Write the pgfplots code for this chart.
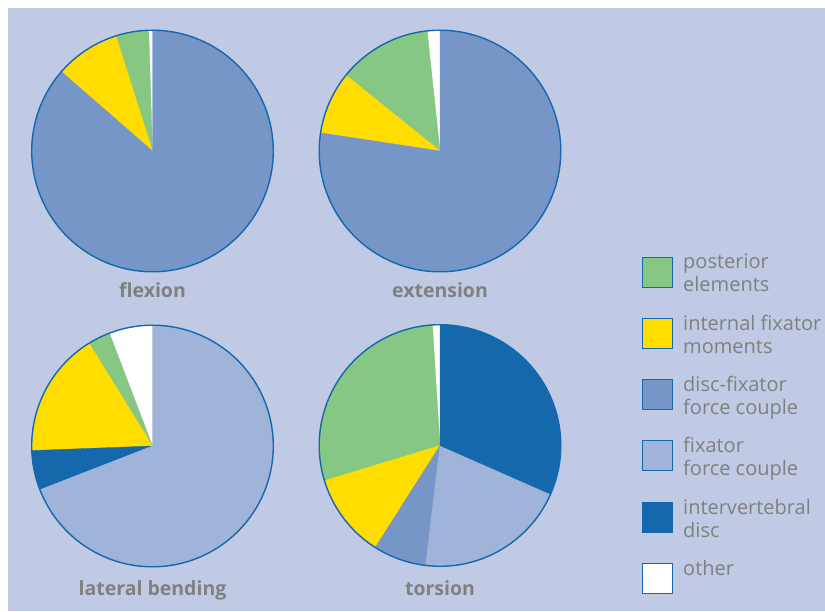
\documentclass[border=0pt]{standalone}
\usepackage{pgfplots}
\pgfplotsset{compat=1.18}
\usepackage{fontspec}
\setmainfont{Open Sans}
\definecolor{bg}{RGB}{192,202,228}
\definecolor{cpost}{RGB}{134,199,132}
\definecolor{cint}{RGB}{255,221,0}
\definecolor{cdf}{RGB}{117,150,199}
\definecolor{cfix}{RGB}{160,179,216}
\definecolor{cdisc}{RGB}{22,104,172}
\definecolor{cother}{RGB}{255,255,255}
\definecolor{txt}{RGB}{128,128,128}

% shares in percent, counter-clockwise from 12 o'clock
\newcommand\pieslices[1]{%
  \gdef\cum{0}%
  \foreach \p/\c in {#1}{%
    \pgfmathsetmacro\a{90+3.6*\cum}%
    \pgfmathsetmacro\b{90+3.6*(\cum+\p)}%
    \edef\temp{\noexpand\addplot[fill=\c, draw=\c, line width=0.3pt, domain=\a:\b, samples=60] ({cos(x)},{sin(x)}) -- (axis cs:0,0) -- cycle;}%
    \temp
    \pgfmathsetmacro\n{\cum+\p}\xdef\cum{\n}%
  }%
  \addplot[draw=cdisc, line width=1.4pt, domain=0:360, samples=181] ({cos(x)},{sin(x)});
}
\pgfplotsset{pieaxis/.style={hide axis, scale only axis, width=241.6pt, height=241.6pt,
  xmin=-1, xmax=1, ymin=-1, ymax=1, clip=false, anchor=origin}}

\begin{document}
\begin{tikzpicture}[x=1pt,y=1pt]
\fill[white] (0,0) rectangle (825,611);
\fill[bg] (8,0) rectangle (825,603);

\begin{axis}[pieaxis, at={(152.5pt,460pt)}]
\pieslices{0.5/cother, 4.4/cpost, 8.7/cint, 86.4/cdf}
\end{axis}
\begin{axis}[pieaxis, at={(440pt,460pt)}]
\pieslices{1.7/cother, 12.5/cpost, 8.4/cint, 77.4/cdf}
\end{axis}
\begin{axis}[pieaxis, at={(152.5pt,165pt)}]
\pieslices{5.8/cother, 3.0/cpost, 16.8/cint, 5.3/cdisc, 69.1/cfix}
\end{axis}
\begin{axis}[pieaxis, at={(440pt,165.5pt)}]
\pieslices{1.0/cother, 28.7/cpost, 11.3/cint, 7.1/cdf, 20.3/cfix, 31.6/cdisc}
\end{axis}

\begin{scope}[every node/.style={text=txt, font=\bfseries\fontsize{19.5}{23}\selectfont, anchor=base, inner sep=0pt}]
\node at (152.5,313) {flexion};
\node at (440,313) {extension};
\node at (152.5,16) {lateral bending};
\node at (440,16) {torsion};
\end{scope}

\begin{scope}[every node/.style={text=txt, font=\fontsize{20}{23}\selectfont, anchor=base west, inner sep=0pt}]
\foreach \i/\c/\la/\lb in {0/cpost/posterior/elements, 1/cint/internal fixator/moments,
  2/cdf/disc-fixator/force couple, 3/cfix/fixator/force couple,
  4/cdisc/intervertebral/disc, 5/cother/other/}{
  \filldraw[fill=\c, draw=cdisc, line width=0.9pt] (642,{611-287-61.3*\i}) rectangle ++(30,30);
  \node at (683,{611-269-61.3*\i}) {\la};
  \node at (683,{611-292-61.3*\i}) {\lb};
}
\end{scope}
\end{tikzpicture}
\end{document}
